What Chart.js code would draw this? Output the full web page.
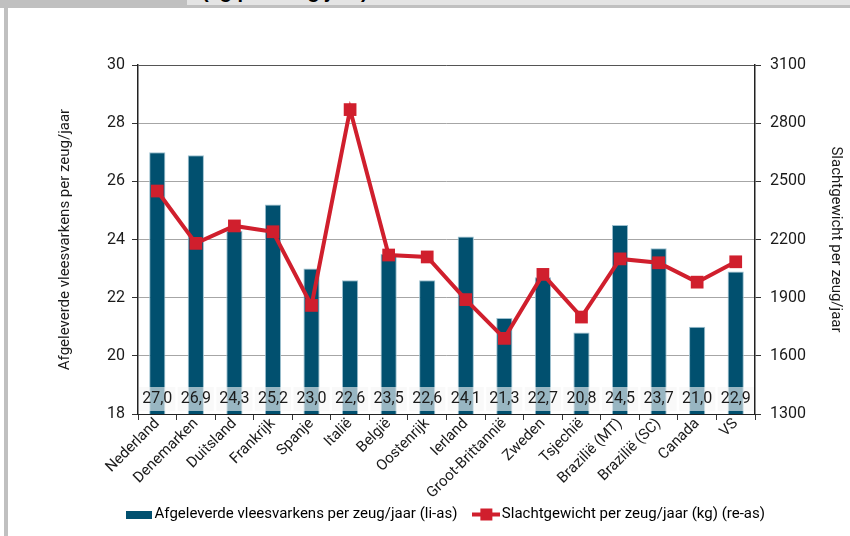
<!DOCTYPE html>
<html>
<head>
<meta charset="utf-8">
<script src="https://cdn.jsdelivr.net/npm/chart.js@4.4.0/dist/chart.umd.min.js"></script>
<style>
  body { margin: 0; background: #fff; }
  #wrap { position: relative; width: 850px; height: 536px; overflow: hidden; }
  .band-l { position: absolute; left: 0; top: 0; width: 187px; height: 8px; background: #c0c0c0; }
  .band-r { position: absolute; left: 187px; top: 0; width: 663px; height: 5px; background: #e4e4e4; overflow: hidden; }
  .band-line { position: absolute; left: 187px; top: 5px; width: 663px; height: 3px; background: #c0c0c0; }
  .side { position: absolute; left: 4px; top: 0; width: 4px; height: 536px; background: #c0c0c0; }
  .title { position: absolute; left: 15px; top: -19px; font: bold 20px "Liberation Sans", Arial, sans-serif; line-height: 20px; white-space: nowrap; color: #000; }
  canvas { position: absolute; left: 0; top: 0; }
</style>
</head>
<body>
<div id="wrap">
  <div class="band-l"></div>
  <div class="band-r"><span class="title">(kg per zeug/jaar)</span></div>
  <div class="band-line"></div>
  <div class="side"></div>
  <canvas id="chart" width="850" height="536"></canvas>
</div>
<script>
// data
const countries = ['Nederland', 'Denemarken', 'Duitsland', 'Frankrijk', 'Spanje', 'Italië', 'België', 'Oostenrijk',
  'Ierland', 'Groot-Brittannië', 'Zweden', 'Tsjechië', 'Brazilië (MT)', 'Brazilië (SC)', 'Canada', 'VS']
const pigsPerSow = [27.0, 26.9, 24.3, 25.2, 23.0, 22.6, 23.5, 22.6, 24.1, 21.3, 22.7, 20.8, 24.5, 23.7, 21.0, 22.9]
const kgPerSow = [2450, 2180, 2270, 2240, 1860, 2870, 2120, 2110, 1890, 1690, 2020, 1800, 2100, 2080, 1980, 2085]
const leftTicks = [18, 20, 22, 24, 26, 28, 30]
const rightTicks = [1300, 1600, 1900, 2200, 2500, 2800, 3100]

const BLUE = '#01506f'
const RED = '#d01f2d'
const TEXT = '#1a1a1a'
const FONT = 'Roboto, "DejaVu Sans Condensed", sans-serif'
const SIZE = 15

Chart.defaults.font.family = FONT
Chart.defaults.font.size = SIZE
Chart.defaults.color = TEXT

// legend swatches
const barSwatch = document.createElement('canvas')
barSwatch.width = 26
barSwatch.height = 8
let g = barSwatch.getContext('2d')
g.fillStyle = BLUE
g.fillRect(0, 0, 26, 8)

const lineSwatch = document.createElement('canvas')
lineSwatch.width = 28
lineSwatch.height = 14
g = lineSwatch.getContext('2d')
g.fillStyle = RED
g.fillRect(0, 5, 28, 4)
g.fillRect(8, 1, 12, 12)

// value labels in the band at the bottom of each bar
const barLabels = {
  id: 'barLabels',
  afterDatasetsDraw(chart) {
    const ctx = chart.ctx
    const meta = chart.getDatasetMeta(0)
    const bottom = chart.scales.y.getPixelForValue(leftTicks[0])
    ctx.save()
    ctx.font = '16px ' + FONT
    ctx.textAlign = 'center'
    ctx.textBaseline = 'middle'
    meta.data.forEach((bar, i) => {
      const txt = pigsPerSow[i].toFixed(1).replace('.', ',')
      const w = ctx.measureText(txt).width + 6
      ctx.fillStyle = 'rgba(246,246,246,0.62)'
      ctx.fillRect(bar.x - w / 2, bottom - 27, w, 24)
      ctx.fillStyle = TEXT
      ctx.fillText(txt, bar.x, bottom - 15)
    })
    ctx.restore()
  }
}

new Chart(document.getElementById('chart'), {
  data: {
    labels: countries,
    datasets: [
      {
        type: 'bar',
        label: 'Afgeleverde vleesvarkens per zeug/jaar (li-as)',
        data: pigsPerSow,
        yAxisID: 'y',
        backgroundColor: BLUE,
        borderColor: '#9cc0cf',
        borderWidth: 1,
        barPercentage: 0.42,
        categoryPercentage: 1,
        order: 2,
      },
      {
        type: 'line',
        label: 'Slachtgewicht per zeug/jaar (kg) (re-as)',
        data: kgPerSow,
        yAxisID: 'y1',
        borderColor: RED,
        backgroundColor: RED,
        borderWidth: 4,
        pointStyle: 'rect',
        pointRadius: 9,
        pointHoverRadius: 9,
        pointBorderWidth: 0,
        tension: 0,
        order: 1,
      },
    ],
  },
  options: {
    responsive: false,
    animation: false,
    layout: { padding: { left: 46, right: 0, top: 65, bottom: 4 } },
    plugins: {
      tooltip: { enabled: false },
      legend: {
        position: 'bottom',
        labels: {
          usePointStyle: true,
          pointStyleWidth: 16,
          padding: 21,
          color: TEXT,
          font: { size: SIZE },
          generateLabels: () => [
            { text: 'Afgeleverde vleesvarkens per zeug/jaar (li-as)', pointStyle: barSwatch, fillStyle: BLUE, strokeStyle: 'transparent', lineWidth: 0, datasetIndex: 0 },
            { text: 'Slachtgewicht per zeug/jaar (kg) (re-as)', pointStyle: lineSwatch, fillStyle: RED, strokeStyle: 'transparent', lineWidth: 0, datasetIndex: 1 },
          ],
        },
      },
    },
    scales: {
      x: {
        offset: true,
        grid: { offset: true, drawOnChartArea: false, drawTicks: true, tickLength: 6, tickColor: '#333' },
        border: { color: '#222', width: 1 },
        ticks: { autoSkip: false, maxRotation: 45, minRotation: 45, padding: -4, color: TEXT, font: { lineHeight: 1 } },
        afterFit: (s) => {
          s.height = 72
          // let the slanted names run down past the legend top, as in the original
          s._computeLabelArea = function () {
            return { top: this.top, left: 0, bottom: this.chart.height, right: this.chart.width }
          }
        },
      },
      y: {
        position: 'left',
        min: leftTicks[0],
        max: leftTicks[leftTicks.length - 1],
        afterBuildTicks: (s) => { s.ticks = leftTicks.map((v) => ({ value: v })) },
        ticks: { padding: 7, color: TEXT, font: { size: 16 } },
        grid: { color: (c) => (c.tick && c.tick.value === 30 ? '#555' : '#a6a6a6'), tickColor: '#333', tickLength: 6 },
        border: { color: '#222', width: 1.5 },
        title: { display: true, text: 'Afgeleverde vleesvarkens per zeug/jaar', padding: { top: 10, bottom: 0 }, color: TEXT },
        afterFit: (s) => { s.width = 92 },
      },
      y1: {
        position: 'right',
        min: rightTicks[0],
        max: rightTicks[rightTicks.length - 1],
        afterBuildTicks: (s) => { s.ticks = rightTicks.map((v) => ({ value: v })) },
        ticks: { padding: 9, color: TEXT, font: { size: 16 }, callback: (v) => String(v) },
        grid: { drawOnChartArea: false, tickColor: '#333', tickLength: 6 },
        border: { color: '#222', width: 1.5 },
        title: { display: true, text: 'Slachtgewicht per zeug/jaar', padding: { top: 5, bottom: 0 }, color: TEXT },
        afterFit: (s) => { s.width = 95 },
      },
    },
  },
  plugins: [barLabels],
})
</script>
</body>
</html>
